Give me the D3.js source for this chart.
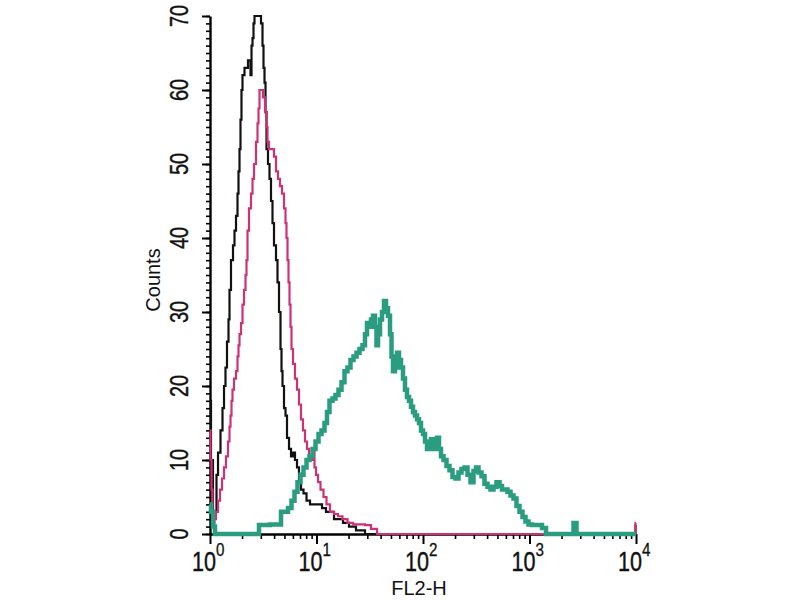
<!DOCTYPE html>
<html>
<head>
<meta charset="utf-8">
<script src="https://cdn.jsdelivr.net/npm/d3@7"></script>
<style>
    body { margin: 0; background: #fff; }
    svg { font-family: "Liberation Sans", Arial, sans-serif; }
</style>
</head>
<body>
<div id="chart"></div>
<script>
// FL2-H histogram, three overlaid samples: [FL2-H value, counts]
var blackData = [[1.00,18],[1.044,10],[1.090,3],[1.138,3],[1.164,8],[1.215,11],[1.296,14],[1.325,17],[1.383,20],[1.413,22.5],
    [1.476,26],[1.508,29],[1.541,33],[1.609,37],[1.680,39],[1.717,41],[1.793,43],[1.832,46],[1.872,49],[1.913,52],
    [1.954,56],[1.997,60],[2.041,62],[2.178,63],[2.375,64],[2.427,62],[2.480,66],[2.534,67],[2.589,69],[2.646,70],
    [2.948,70],[3.078,69],[3.146,66],[3.214,63],[3.285,61],[3.356,57],[3.429,52],[3.581,50],[3.659,48],[3.821,45],
    [3.904,42],[4.077,39],[4.257,37],[4.350,34],[4.543,30],[4.642,25],[4.744,22],[4.847,20],[5.062,17],[5.170,16],
    [5.402,13],[5.640,11.5],[5.888,10.5],[6.147,11],[6.419,10],[6.703,9],[7.000,7],[7.308,6],[7.798,5.5],[8.324,4.5],
    [9.073,4],[9.892,4],[10.79,4],[11.76,3.5],[12.82,3],[13.98,3],[15.25,2],[16.62,2],[18.92,1.5],[21.54,1],
    [25.62,0.5],[31.80,0],[9800,0],[10000,1.2]];

var magentaData = [[1.00,14],[1.022,10],[1.044,6],[1.067,3],[1.090,1.5],[1.114,2],[1.164,3],[1.215,4.5],[1.269,6],[1.325,7.5],
    [1.383,9],[1.444,10.5],[1.508,12.5],[1.541,14.5],[1.575,16],[1.609,18],[1.644,19.5],[1.717,21],[1.793,22],[1.832,24],
    [1.872,25.5],[1.913,27],[1.997,28.5],[2.041,31],[2.132,33],[2.178,35],[2.226,37],[2.274,41],[2.375,44],[2.480,46],
    [2.534,48],[2.646,50],[2.763,53],[2.823,55.5],[2.885,57.5],[2.948,60],[3.078,60],[3.214,59],[3.356,57],[3.429,55],
    [3.505,53],[3.659,52],[3.904,52],[4.077,51],[4.257,49],[4.445,48],[4.642,47],[4.847,46],[5.062,44],[5.170,42],
    [5.284,40],[5.402,37],[5.518,34],[5.640,31],[5.764,28],[5.888,25],[6.147,23],[6.419,21],[6.703,19.5],[7.000,17.5],
    [7.308,15.5],[7.630,14],[7.968,12.5],[8.324,11.5],[8.690,10.5],[9.073,10],[9.475,11.5],[9.681,9],[10.11,8],[10.56,7],
    [11.26,6],[12.02,5],[12.82,4],[13.98,3],[15.25,2.7],[16.62,2.4],[18.52,2],[20.63,1.5],[23.49,1.3],[26.75,1.3],
    [30.45,1.2],[34.67,0.7],[39.48,0],[9800,0],[10000,1.5]];

var tealData = [[1.00,4],[1.044,3],[1.090,1],[1.138,0],[2.823,0],[2.948,1.2],[4.543,1.3],[4.744,3],[5.170,3],[5.640,3.5],
    [6.017,4.5],[6.419,5.7],[6.850,7],[7.308,8],[7.798,9],[8.324,10],[8.879,10.5],[9.475,11.5],[10.11,12.5],[10.79,13.5],
    [11.51,14],[12.28,15],[12.82,16.5],[13.68,18],[14.60,18.3],[15.57,18.8],[16.62,19.5],[17.74,20.5],[18.92,22],[20.19,22.5],
    [21.54,23.5],[22.99,24],[24.53,24.5],[26.17,25],[27.92,25.5],[29.16,27],[30.45,28.5],[31.80,28],[33.20,29],[34.67,29.5],
    [36.20,28],[37.00,25.5],[38.63,27],[40.34,29],[42.12,30],[43.98,31.5],[45.92,30.5],[47.95,29.5],[50.07,27],[51.17,24],
    [53.42,22],[55.78,22.5],[58.25,24.5],[60.82,23.5],[63.51,22.5],[66.31,21],[69.24,19.5],[72.30,18.5],[75.49,18],[78.83,17.2],
    [82.31,16.5],[85.95,16],[89.75,15.5],[93.72,15],[97.86,14],[102.2,13.5],[106.7,12.5],[111.4,11.5],[116.3,12],[121.5,12.8],
    [126.9,11.5],[132.5,12.5],[138.3,13],[144.4,11.5],[150.8,10.5],[160.9,10],[171.7,9.2],[183.2,8.6],[195.4,7.7],[208.6,7.5],
    [222.6,8.3],[237.5,8.8],[253.4,9],[270.4,8],[288.5,7],[307.8,8.5],[321.4,9],[343.0,8.3],[365.9,7.8],[390.4,6.8],
    [416.6,6.4],[444.5,6],[474.3,6.4],[506.1,7],[540.2,6.5],[563.9,6],[601.7,6],[642.1,5.7],[685.0,5.2],[731.0,4.8],
    [779.9,3.8],[832.3,3],[887.9,2.3],[947.4,1.7],[1011,1.3],[1102,1.2],[1255,1.2],[1368,0.8],[1492,0],[2507,0],
    [2675,1.5],[2854,0],[10000,0]];

var yMajor = [0, 10, 20, 30, 40, 50, 60, 70];
var xMajor = [1, 10, 100, 1000, 10000];
var xExponents = ["0", "1", "2", "3", "4"];

var width = 800, height = 600;
var svg = d3.select("#chart").append("svg")
    .attr("width", width)
    .attr("height", height);

var x = d3.scaleLog().domain([1, 10000]).range([210, 636]);
var y = d3.scaleLinear().domain([0, 70]).range([534, 16]);

// y axis: minor ticks every count, major every 10
svg.append("g")
    .attr("transform", "translate(" + x(1) + ",0)")
    .call(d3.axisLeft(y).tickValues(d3.range(0, 71)).tickSize(4).tickSizeOuter(0).tickFormat(""))
    .call(g => g.select(".domain").attr("stroke-width", 2.4))
    .selectAll("line").attr("stroke-width", 1.6);
svg.append("g")
    .attr("transform", "translate(" + x(1) + ",0)")
    .call(d3.axisLeft(y).tickValues(yMajor).tickSize(8).tickFormat(""))
    .call(g => g.select(".domain").remove())
    .selectAll("line").attr("stroke-width", 2);

// x axis: log minor ticks 2..9 per decade
var xMinor = [];
for (let p = 0; p < 4; p++) {
    for (let m = 2; m < 10; m++) xMinor.push(m * Math.pow(10, p));
}
svg.append("g")
    .attr("transform", "translate(0," + y(0) + ")")
    .call(d3.axisBottom(x).tickValues(xMinor).tickSize(5).tickSizeOuter(0).tickFormat(""))
    .call(g => g.select(".domain").attr("stroke-width", 2.4))
    .selectAll("line").attr("stroke-width", 1.6);
svg.append("g")
    .attr("transform", "translate(0," + y(0) + ")")
    .call(d3.axisBottom(x).tickValues(xMajor).tickSize(10).tickFormat(""))
    .call(g => g.select(".domain").remove())
    .selectAll("line").attr("stroke-width", 2);

// rotated y tick labels
svg.append("g").selectAll("text")
    .data(yMajor)
    .enter()
    .append("text")
        .attr("transform", d => "translate(188," + y(d) + ") rotate(-90) scale(0.8,1)")
        .attr("text-anchor", "middle")
        .attr("font-size", "25px")
        .attr("fill", "#111")
        .attr("stroke", "#111")
        .attr("stroke-width", 0.4)
        .text(d => d);

// x tick labels 10^n
var xLabels = svg.append("g").selectAll("g")
    .data(xMajor)
    .enter()
    .append("g")
        .attr("transform", d => "translate(" + (x(d) - 6) + ",571) scale(0.8,1)");
xLabels.append("text")
    .attr("text-anchor", "middle")
    .attr("font-size", "27px")
    .attr("fill", "#111")
    .attr("stroke", "#111")
    .attr("stroke-width", 0.4)
    .text("10");
xLabels.append("text")
    .attr("x", 15)
    .attr("y", -15)
    .attr("font-size", "19px")
    .attr("fill", "#111")
    .attr("stroke", "#111")
    .attr("stroke-width", 0.3)
    .text((d, i) => xExponents[i]);

// axis titles
svg.append("text")
    .attr("transform", "translate(160,280) rotate(-90)")
    .attr("text-anchor", "middle")
    .attr("font-size", "20px")
    .attr("fill", "#111")
    .text("Counts");
svg.append("text")
    .attr("x", 419)
    .attr("y", 595)
    .attr("text-anchor", "middle")
    .attr("font-size", "20px")
    .attr("fill", "#111")
    .text("FL2-H");

// histogram traces
var line = d3.line()
    .x(d => x(d[0]))
    .y(d => y(d[1]))
    .curve(d3.curveStep);

svg.append("path")
    .datum(blackData)
    .attr("d", line)
    .attr("fill", "none")
    .attr("stroke", "#111")
    .attr("stroke-width", 2.2);

svg.append("path")
    .datum(magentaData)
    .attr("d", line)
    .attr("fill", "none")
    .attr("stroke", "#cf3274")
    .attr("stroke-width", 2.2);

svg.append("path")
    .datum(tealData)
    .attr("d", line)
    .attr("fill", "none")
    .attr("stroke", "#2a9c80")
    .attr("stroke-width", 4.5);
</script>
</body>
</html>
